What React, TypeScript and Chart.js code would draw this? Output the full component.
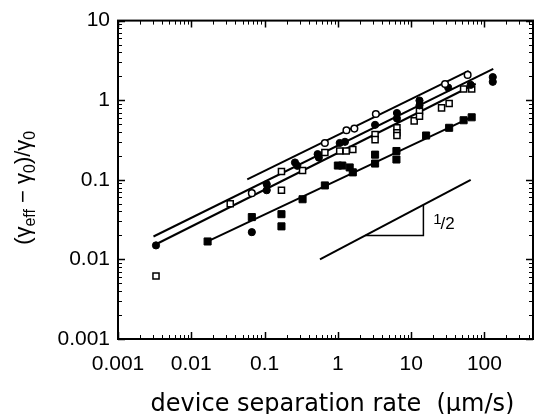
import React, { useEffect, useRef } from 'react';
import { Chart, registerables } from 'chart.js';

Chart.register(...registerables);

// ---- text ----
const X_TITLE = 'device separation rate  (\u03bcm/s)';
const Y_TITLE_PARTS: [string, boolean][] = [
  ['(\u03b3', false],
  ['eff', true],
  [' \u2212 \u03b3', false],
  ['0', true],
  [')/\u03b3', false],
  ['0', true],
];
const SLOPE_LABEL_NUM = '1';
const SLOPE_LABEL_DEN = '/2';

// ---- axes ----
const X_TICKS = [0.001, 0.01, 0.1, 1, 10, 100];
const Y_TICKS = [0.001, 0.01, 0.1, 1, 10];
const X_MIN = 0.001;
const X_MAX = 460;
const Y_MIN = 0.001;
const Y_MAX = 10;

// ---- data: open circles ----
const openCircleX = [0.067, 0.665, 1.31, 1.68, 3.3, 29, 59];
const openCircleY = [0.068, 0.29, 0.42, 0.44, 0.67, 1.6, 2.08];

// ---- data: filled circles ----
const filledCircleX = [0.0033, 0.067, 0.107, 0.107, 0.26, 0.28, 0.53, 0.55, 1.06, 1.25, 3.22, 6.4, 6.4, 13, 13, 32, 65, 130, 130];
const filledCircleY = [0.015, 0.022, 0.088, 0.074, 0.165, 0.15, 0.21, 0.19, 0.29, 0.3, 0.49, 0.69, 0.59, 0.99, 0.86, 1.44, 1.56, 1.95, 1.7];

// ---- data: open squares ----
const openSquareX = [0.0033, 0.034, 0.17, 0.17, 0.33, 0.665, 1.06, 1.3, 1.6, 3.22, 3.22, 6.4, 6.4, 6.4, 11, 13, 13, 26, 33, 52, 67];
const openSquareY = [0.0062, 0.05, 0.127, 0.074, 0.131, 0.22, 0.23, 0.23, 0.24, 0.37, 0.32, 0.45, 0.39, 0.36, 0.55, 0.73, 0.63, 0.8, 0.91, 1.38, 1.38];

// ---- data: filled squares ----
const filledSquareX = [0.0167, 0.067, 0.17, 0.17, 0.33, 0.665, 1.0, 1.15, 1.45, 1.6, 3.22, 3.22, 6.3, 6.3, 16, 33, 52, 67];
const filledSquareY = [0.0168, 0.034, 0.037, 0.026, 0.057, 0.085, 0.151, 0.151, 0.143, 0.124, 0.207, 0.16, 0.23, 0.18, 0.36, 0.45, 0.56, 0.61];

// ---- fit lines (end points) ----
const fitOpenCircleX = [0.058, 61];
const fitOpenCircleY = [0.101, 2.33];
const fitFilledCircleX = [0.00305, 132];
const fitFilledCircleY = [0.0194, 2.47];
const fitOpenSquareX = [0.0033, 76];
const fitOpenSquareY = [0.0155, 1.61];
const fitFilledSquareX = [0.0167, 71];
const fitFilledSquareY = [0.0168, 0.63];

// ---- slope 1/2 guide ----
const guideX = [0.57, 65];
const guideY = [0.01, 0.1];
const triangleX = [2.37, 14.7, 14.7];
const triangleY = [0.02, 0.02, 0.0485];
const slopeLabelX = 20;
const slopeLabelY = 0.028;

const pts = (xs: number[], ys: number[]) => xs.map((x, i) => ({ x, y: ys[i] }));

const TICK_FONT = { family: '"Liberation Sans", Arial, sans-serif', size: 21 };

export default function App() {
  const ref = useRef<HTMLCanvasElement>(null);

  useEffect(() => {
    document.body.style.margin = '0';
    const canvas = ref.current!;

    const framePlugin = {
      id: 'frameTicks',
      afterDatasetsDraw(chart: any) {
        const { ctx, chartArea: a, scales } = chart;
        const xs = scales.x;
        const ys = scales.y;
        ctx.save();
        ctx.strokeStyle = '#000';
        ctx.lineWidth = 2;
        ctx.strokeRect(a.left, a.top, a.right - a.left, a.bottom - a.top);
        for (let e = -3; e <= 2; e++) {
          for (let m = 1; m <= 9; m++) {
            const v = m * Math.pow(10, e);
            const major = m === 1;
            ctx.lineWidth = major ? 1.5 : 1;
            const len = major ? 7 : 4;
            if (v >= X_MIN && v <= X_MAX) {
              const p = Math.round(xs.getPixelForValue(v)) + 0.5;
              ctx.beginPath();
              ctx.moveTo(p, a.bottom);
              ctx.lineTo(p, a.bottom - len);
              ctx.moveTo(p, a.top);
              ctx.lineTo(p, a.top + len);
              ctx.stroke();
            }
            if (v >= Y_MIN && v <= Y_MAX) {
              const p = Math.round(ys.getPixelForValue(v)) + 0.5;
              ctx.beginPath();
              ctx.moveTo(a.left, p);
              ctx.lineTo(a.left + len, p);
              ctx.moveTo(a.right, p);
              ctx.lineTo(a.right - len, p);
              ctx.stroke();
            }
          }
        }
        ctx.restore();
      },
      afterDraw(chart: any) {
        const { ctx, chartArea: a, scales } = chart;
        ctx.save();
        ctx.fillStyle = '#000';
        // x title
        ctx.font = '24px "DejaVu Sans", sans-serif';
        ctx.textAlign = 'center';
        ctx.textBaseline = 'alphabetic';
        ctx.fillText(X_TITLE, (a.left + a.right) / 2 + 7, 411);
        // y title with subscripts
        const big = '22px "Liberation Sans", Arial, sans-serif';
        const small = '16px "Liberation Sans", Arial, sans-serif';
        ctx.textAlign = 'left';
        let total = 0;
        const widths = Y_TITLE_PARTS.map(([t, sub]) => {
          ctx.font = sub ? small : big;
          const w = ctx.measureText(t).width;
          total += w;
          return w;
        });
        ctx.translate(30, (a.top + a.bottom) / 2 + 8);
        ctx.rotate(-Math.PI / 2);
        let x = -total / 2;
        Y_TITLE_PARTS.forEach(([t, sub], i) => {
          ctx.font = sub ? small : big;
          ctx.fillText(t, x, sub ? 5 : 0);
          x += widths[i];
        });
        ctx.setTransform(1, 0, 0, 1, 0, 0);
        // slope label
        const lx = scales.x.getPixelForValue(slopeLabelX);
        const ly = scales.y.getPixelForValue(slopeLabelY);
        ctx.font = '15px "Liberation Sans", Arial, sans-serif';
        ctx.fillText(SLOPE_LABEL_NUM, lx, ly);
        const w1 = ctx.measureText(SLOPE_LABEL_NUM).width;
        ctx.font = '17px "Liberation Sans", Arial, sans-serif';
        ctx.fillText(SLOPE_LABEL_DEN, lx + w1 - 1, ly + 5);
        ctx.restore();
      },
    };

    const markerBase = { showLine: false, borderColor: '#000', order: 1 };
    const lineBase = {
      showLine: true,
      pointRadius: 0,
      borderColor: '#000',
      borderWidth: 2,
      fill: false,
      order: 2,
    };

    const chart = new Chart(canvas, {
      type: 'scatter',
      data: {
        datasets: [
          { ...markerBase, label: 'open circles', data: pts(openCircleX, openCircleY), pointStyle: 'circle', pointRadius: 3.3, backgroundColor: '#fff', borderWidth: 1.5 },
          { ...markerBase, label: 'filled circles', data: pts(filledCircleX, filledCircleY), pointStyle: 'circle', pointRadius: 3.6, backgroundColor: '#000', borderWidth: 1 },
          { ...markerBase, label: 'open squares', data: pts(openSquareX, openSquareY), pointStyle: 'rect', pointRadius: 4.3, backgroundColor: '#fff', borderWidth: 1.5 },
          { ...markerBase, label: 'filled squares', data: pts(filledSquareX, filledSquareY), pointStyle: 'rect', pointRadius: 5, backgroundColor: '#000', borderWidth: 1 },
          { ...lineBase, label: 'fit open circles', data: pts(fitOpenCircleX, fitOpenCircleY) },
          { ...lineBase, label: 'fit filled circles', data: pts(fitFilledCircleX, fitFilledCircleY) },
          { ...lineBase, label: 'fit open squares', data: pts(fitOpenSquareX, fitOpenSquareY) },
          { ...lineBase, label: 'fit filled squares', data: pts(fitFilledSquareX, fitFilledSquareY) },
          { ...lineBase, label: 'slope guide', data: pts(guideX, guideY) },
          { ...lineBase, label: 'slope triangle', borderWidth: 1.5, data: pts(triangleX, triangleY) },
        ],
      },
      options: {
        animation: false,
        responsive: false,
        devicePixelRatio: 1,
        layout: { padding: { left: 0, top: 16, right: 1, bottom: 0 } },
        plugins: { legend: { display: false }, tooltip: { enabled: false }, title: { display: false } },
        scales: {
          x: {
            type: 'logarithmic',
            position: 'bottom',
            min: X_MIN,
            max: X_MAX,
            grid: { display: false, drawTicks: false },
            border: { display: false },
            afterBuildTicks: (s: any) => {
              s.ticks = X_TICKS.map((v) => ({ value: v }));
            },
            afterFit: (s: any) => {
              s.height = 75;
            },
            ticks: {
              autoSkip: false,
              maxRotation: 0,
              padding: 13,
              color: '#000',
              font: TICK_FONT,
              callback: (v: any) => String(v),
            },
          },
          y: {
            type: 'logarithmic',
            position: 'left',
            min: Y_MIN,
            max: Y_MAX,
            grid: { display: false, drawTicks: false },
            border: { display: false },
            afterBuildTicks: (s: any) => {
              s.ticks = Y_TICKS.map((v) => ({ value: v }));
            },
            afterFit: (s: any) => {
              s.width = 118;
            },
            ticks: {
              autoSkip: false,
              padding: 8,
              color: '#000',
              font: TICK_FONT,
              callback: (v: any) => String(v),
            },
          },
        },
      },
      plugins: [framePlugin],
    } as any);

    return () => chart.destroy();
  }, []);

  return (
    <div style={{ width: 539, height: 414, background: '#fff' }}>
      <canvas ref={ref} width={539} height={414} style={{ display: 'block' }} />
    </div>
  );
}
